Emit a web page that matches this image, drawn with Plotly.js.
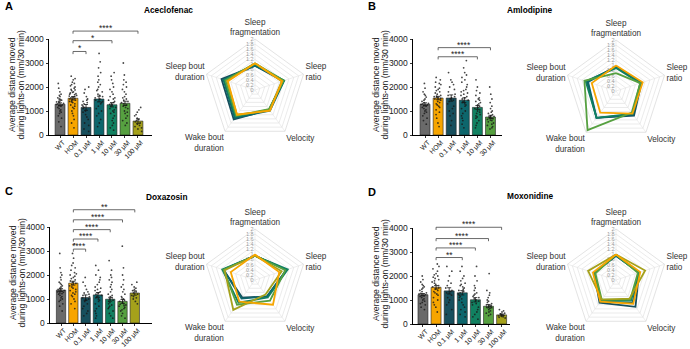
<!DOCTYPE html>
<html><head><meta charset="utf-8">
<script src="https://cdn.plot.ly/plotly-3.0.1.min.js"></script>
<style>html,body{margin:0;padding:0;background:#fff}#chart{width:690px;height:349px}</style>
</head><body><div id="chart"></div>
<script>
// ================= DATA =================
const groups7 = ['WT','HOM','0.1 μM','1 μM','10 μM','30 μM','100 μM'];
const groups6 = ['WT','HOM','0.1 μM','1 μM','10 μM','30 μM'];
const groupColors = ['#6a6a6a','#f7a500','#174f5d','#0d666c','#118161','#56a040','#a5a11b'];
const radarAxes = ['Sleep<br>fragmentation','Sleep<br>ratio','Velocity','Wake bout<br>duration','Sleep bout<br>duration'];
const yTicks = [0,1000,2000,3000,4000];
const drugNames = ['Aceclofenac','Amlodipine','Doxazosin','Moxonidine'];
const panelLetters = ['A','B','C','D'];
const yTitle1 = 'Average distance moved';
const yTitle2 = 'during lights-on (mm/30 min)';

// --- Panel A: Aceclofenac ---
const meanA = [1280,1530,1150,1500,1260,1320,580];
const semA  = [60,70,120,120,90,90,90];
const ptsA_WT  = [2150,1950,1800,1700,1650,1600,1550,1500,1480,1450,1420,1400,1380,1350,1320,1300,1280,1250,1220,1200,1150,1100,1050,1000,950,900,800,700,550,350];
const ptsA_HOM = [2450,2350,2300,2200,2150,2100,2050,2000,1950,1900,1880,1850,1800,1780,1750,1720,1700,1680,1650,1620,1600,1580,1550,1520,1500,1480,1450,1420,1400,1380,1350,1300,1250,1200,1150,1100,1000,900,800,650,500,300];
const ptsA_01  = [2000,1900,1750,1600,1500,1450,1400,1350,1300,1250,1200,1150,1100,1000,950,850,750,650,500,400,250,150];
const ptsA_1   = [3400,3050,2800,2600,2450,2300,2200,2100,2000,1900,1850,1800,1700,1650,1600,1550,1500,1450,1400,1350,1300,1200,1100,1000,900,800,650,500,350];
const ptsA_10  = [2600,2450,2300,2150,2000,1900,1800,1700,1600,1550,1500,1450,1400,1350,1300,1280,1250,1200,1150,1100,1050,1000,950,900,800,700,600,500,400,300,200];
const ptsA_30  = [3000,2500,2300,2200,2100,2000,1900,1800,1700,1600,1550,1500,1450,1400,1350,1300,1250,1200,1150,1100,1000,950,900,800,700,600,500,400];
const ptsA_100 = [1150,1050,950,850,800,700,650,600,550,500,450,400,350,300,250,150];
const sigA_target = ['0.1 μM','10 μM','100 μM'];
const sigA_label  = ['*','*','****'];
const sigA_y      = [3480,3930,4330];
const radarA_HOM = [1.05,1.12,1.0,1.2,1.12];
const radarA_01  = [0.95,1.15,0.95,1.42,1.38];
const radarA_1   = [0.95,1.2,1.0,1.35,1.3];
const radarA_10  = [1.0,1.2,0.95,1.3,1.28];
const radarA_30  = [1.05,1.18,0.93,1.25,1.22];
const radarA_100 = [1.05,1.1,0.98,1.2,1.15];

// --- Panel B: Amlodipine ---
const meanB = [1280,1540,1540,1450,1150,750];
const semB  = [60,70,130,100,80,70];
const ptsB_WT  = [2150,1950,1800,1700,1650,1580,1500,1450,1400,1350,1320,1300,1280,1250,1220,1200,1150,1100,1050,1000,950,900,800,700,600,450];
const ptsB_HOM = [2400,2300,2200,2150,2100,2000,1950,1900,1850,1800,1750,1700,1650,1620,1600,1580,1550,1520,1500,1450,1400,1350,1300,1250,1200,1150,1050,950,850,700,500,350];
const ptsB_01  = [2600,2300,2200,2100,2000,1900,1800,1700,1650,1600,1550,1500,1450,1400,1300,1200,1100,1000,900,800,600,400];
const ptsB_1   = [3100,2800,2600,2500,2400,2300,2200,2100,2000,1900,1850,1800,1750,1700,1650,1600,1550,1500,1450,1400,1350,1300,1250,1200,1100,1000,900,800,700,600,450,300];
const ptsB_10  = [2300,2000,1850,1750,1650,1550,1500,1450,1400,1350,1300,1250,1200,1150,1100,1050,1000,950,900,850,800,750,700,600,500,400,300];
const ptsB_30  = [2000,1700,1500,1350,1200,1100,1000,950,900,850,800,780,750,720,700,680,650,620,600,550,500,450,400,350,300,250];
const sigB_target = ['10 μM','30 μM'];
const sigB_label  = ['****','****'];
const sigB_y      = [3260,3640];
const radarB_HOM = [1.0,1.1,1.1,1.05,1.0];
const radarB_01  = [0.95,1.05,1.2,1.3,1.2];
const radarB_1   = [0.95,1.05,1.15,1.3,1.15];
const radarB_10  = [0.9,1.0,1.1,1.3,1.25];
const radarB_30  = [0.7,1.0,1.05,1.9,1.3];

// --- Panel C: Doxazosin ---
const meanC = [1370,1660,1060,1170,990,900,1250];
const semC  = [60,80,110,100,80,80,90];
const ptsC_WT  = [2900,2300,2100,2000,1900,1800,1700,1650,1600,1550,1500,1450,1400,1380,1350,1320,1300,1280,1250,1220,1200,1150,1100,1050,1000,950,900,800,700,500];
const ptsC_HOM = [3300,2900,2700,2500,2400,2300,2200,2100,2050,2000,1950,1900,1850,1800,1750,1700,1650,1600,1550,1500,1450,1400,1350,1300,1250,1200,1150,1100,1000,900,800,600];
const ptsC_01  = [1900,1700,1550,1400,1300,1250,1200,1150,1100,1050,1000,950,900,800,700,600,500,400,300];
const ptsC_1   = [2400,2200,2000,1900,1800,1700,1600,1500,1450,1400,1350,1300,1250,1200,1150,1100,1050,1000,950,900,800,700,600,500,400,300,200];
const ptsC_10  = [2600,2200,2000,1900,1800,1700,1600,1500,1400,1300,1200,1150,1100,1050,1000,950,900,850,800,750,700,650,600,500,400,300,200];
const ptsC_30  = [3200,2300,2000,1800,1600,1500,1400,1300,1200,1100,1050,1000,950,900,850,800,780,750,720,700,650,600,550,500,400,300,200];
const ptsC_100 = [1700,1600,1500,1450,1400,1350,1300,1250,1200,1150,1100,1050,1000,900,800];
const sigC_target = ['0.1 μM','1 μM','10 μM','30 μM','100 μM'];
const sigC_label  = ['****','****','****','****','**'];
const sigC_y      = [3080,3500,3890,4300,4720];
const radarC_HOM = [1.0,1.0,1.2,1.05,1.0];
const radarC_01  = [0.95,1.3,0.8,0.85,1.3];
const radarC_1   = [0.95,1.3,0.8,0.9,1.3];
const radarC_10  = [0.95,1.35,0.85,1.1,1.35];
const radarC_30  = [0.95,1.25,1.0,1.2,1.3];
const radarC_100 = [0.95,1.1,0.7,1.45,1.25];

// --- Panel D: Moxonidine ---
const meanD = [1220,1530,1380,1300,1010,740,380];
const semD  = [50,70,130,90,90,70,40];
const ptsD_WT  = [2000,1850,1750,1650,1600,1550,1500,1450,1400,1350,1300,1280,1250,1220,1200,1180,1150,1100,1050,1000,950,900,850,800,700,600];
const ptsD_HOM = [2500,2400,2300,2200,2100,2050,2000,1950,1900,1850,1800,1750,1700,1650,1600,1550,1500,1450,1400,1350,1300,1250,1200,1100,1000,900,800,700,500];
const ptsD_01  = [2400,2200,2000,1800,1700,1600,1500,1400,1350,1300,1200,1100,1000,900,800,600,400];
const ptsD_1   = [2400,2200,2000,1900,1800,1700,1650,1600,1550,1500,1450,1400,1350,1300,1250,1200,1150,1100,1050,1000,900,800,700,600,500,400,300];
const ptsD_10  = [2400,2000,1800,1600,1500,1400,1300,1250,1200,1150,1100,1050,1000,950,900,850,800,700,600,500,400,300,200];
const ptsD_30  = [2100,1400,1300,1200,1100,1000,950,900,850,800,780,750,720,700,680,650,600,550,500,450,400,350];
const ptsD_100 = [600,550,500,450,420,400,380,360,340,320,300,280,250];
const sigD_target = ['1 μM','10 μM','30 μM','100 μM'];
const sigD_label  = ['**','****','****','****'];
const sigD_y      = [2770,3170,3560,4030];
const radarD_HOM = [1.0,1.0,1.15,1.05,0.95];
const radarD_01  = [0.95,0.95,1.3,1.1,0.9];
const radarD_1   = [0.95,0.95,1.1,1.05,0.9];
const radarD_10  = [0.98,0.95,1.0,1.0,0.9];
const radarD_30  = [1.0,0.9,0.95,0.95,0.85];
const radarD_100 = [1.0,1.2,0.9,0.95,1.15];

// ================= LAYOUT GEOMETRY (pixels) =================
const W = 690, H = 349;
const px = v => v / W;
const py = v => 1 - v / H;
const PX_PER_4000 = 96;
const geo = [
  {axL:49,  axR:152, y0:135, xr:[-0.85,7.08], cx:255, cy:90,  tX:168, tY:10,  lX:3,   lY:6},
  {axL:413, axR:502, y0:135, xr:[-0.92,5.88], cx:616, cy:91,  tX:530, tY:10,  lX:366, lY:6},
  {axL:50,  axR:152, y0:323, xr:[-0.9,7.4],   cx:255, cy:280, tX:167, tY:197, lX:3,   lY:191},
  {axL:413, axR:510, y0:324, xr:[-0.76,6.64], cx:616, cy:280, tX:530, tY:196, lX:366, lY:192}
];
const R = 51;

const panelData = [
  {cats:groups7, mean:meanA, sem:semA, pts:[ptsA_WT,ptsA_HOM,ptsA_01,ptsA_1,ptsA_10,ptsA_30,ptsA_100],
   sigT:sigA_target, sigL:sigA_label, sigY:sigA_y,
   radar:[null,radarA_HOM,radarA_01,radarA_1,radarA_10,radarA_30,radarA_100]},
  {cats:groups6, mean:meanB, sem:semB, pts:[ptsB_WT,ptsB_HOM,ptsB_01,ptsB_1,ptsB_10,ptsB_30],
   sigT:sigB_target, sigL:sigB_label, sigY:sigB_y,
   radar:[null,radarB_HOM,radarB_01,radarB_1,radarB_10,radarB_30]},
  {cats:groups7, mean:meanC, sem:semC, pts:[ptsC_WT,ptsC_HOM,ptsC_01,ptsC_1,ptsC_10,ptsC_30,ptsC_100],
   sigT:sigC_target, sigL:sigC_label, sigY:sigC_y,
   radar:[null,radarC_HOM,radarC_01,radarC_1,radarC_10,radarC_30,radarC_100]},
  {cats:groups7, mean:meanD, sem:semD, pts:[ptsD_WT,ptsD_HOM,ptsD_01,ptsD_1,ptsD_10,ptsD_30,ptsD_100],
   sigT:sigD_target, sigL:sigD_label, sigY:sigD_y,
   radar:[null,radarD_HOM,radarD_01,radarD_1,radarD_10,radarD_30,radarD_100]}
];

const FONT = 'Liberation Sans, Arial, Helvetica, sans-serif';
const traces = [];
const layout = {
  width: W, height: H, margin:{l:0,r:0,t:0,b:0},
  paper_bgcolor:'#fff', plot_bgcolor:'rgba(0,0,0,0)',
  showlegend:false, font:{family:FONT, color:'#222'},
  annotations:[]
};

panelData.forEach((p, i) => {
  const g = geo[i];
  const n = i + 1;
  const xa = 'x' + n, ya = 'y' + n, yb = 'y' + (n + 4);
  const xKey = 'xaxis' + n, yKey = 'yaxis' + n, ybKey = 'yaxis' + (n + 4);
  const colors = groupColors.slice(0, p.cats.length);

  layout[xKey] = {
    domain:[px(g.axL), px(g.axR)], anchor:ya, type:'category', range:g.xr,
    showline:true, linecolor:'#000', linewidth:1, ticks:'outside', ticklen:2, tickwidth:0.8, tickcolor:'#000',
    tickangle:-45, ticklabelshift:3, ticklabelstandoff:-2, tickfont:{size:6.8, color:'#222', family:FONT},
    showgrid:false, zeroline:false, fixedrange:true
  };
  layout[yKey] = {
    domain:[py(g.y0), py(g.y0 - PX_PER_4000)], anchor:xa, range:[0,4000], tickvals:yTicks,
    showline:true, linecolor:'#000', linewidth:1, ticks:'outside', ticklen:2.5, tickwidth:0.8, tickcolor:'#000',
    tickfont:{size:8.5, color:'#222', family:FONT}, showgrid:false, zeroline:false, fixedrange:true
  };
  layout[ybKey] = {
    domain:[py(g.y0), py(g.y0 - PX_PER_4000 * 1.25)], anchor:xa, range:[0,5000], visible:false, fixedrange:true
  };

  traces.push({
    type:'bar', x:p.cats, y:p.mean, xaxis:xa, yaxis:ya, width:0.76,
    marker:{color:colors, line:{color:'#222', width:0.6}},
    error_y:{type:'data', array:p.sem, color:'#111', thickness:0.8, width:2},
    hoverinfo:'skip'
  });

  const xs = [], ys = [];
  p.pts.forEach((arr, k) => arr.forEach(v => { xs.push(p.cats[k]); ys.push(v); }));
  traces.push({
    type:'box', x:xs, y:ys, xaxis:xa, yaxis:ya, boxpoints:'all', jitter:0.85, pointpos:0, width:0.72,
    marker:{size:1.8, color:'rgba(25,25,25,0.8)'}, line:{width:0, color:'rgba(0,0,0,0)'},
    fillcolor:'rgba(0,0,0,0)', hoverinfo:'skip'
  });

  p.sigT.forEach((t, j) => {
    const h = p.sigY[j];
    traces.push({
      type:'scatter', mode:'lines', x:['HOM','HOM',t,t], y:[h - 110, h, h, h - 110],
      xaxis:xa, yaxis:yb, line:{color:'#444', width:0.8}, hoverinfo:'skip'
    });
    layout.annotations.push({
      xref:xa, yref:yb, x:(1 + p.cats.indexOf(t)) / 2, y:h, text:p.sigL[j], showarrow:false,
      yanchor:'bottom', yshift:-4, font:{size:8.5, color:'#222', family:FONT}
    });
  });

  // y-axis title (two lines)
  const yc = g.y0 - PX_PER_4000 / 2 - 2;
  layout.annotations.push({xref:'paper', yref:'paper', x:px(g.axL - 37), y:py(yc), text:yTitle1, textangle:-90,
    showarrow:false, xanchor:'center', yanchor:'middle', font:{size:8.6, color:'#222', family:FONT}});
  layout.annotations.push({xref:'paper', yref:'paper', x:px(g.axL - 28.5), y:py(yc), text:yTitle2, textangle:-90,
    showarrow:false, xanchor:'center', yanchor:'middle', font:{size:8.6, color:'#222', family:FONT}});

  // panel letter and drug title
  layout.annotations.push({xref:'paper', yref:'paper', x:px(g.lX), y:py(g.lY), text:'<b>' + panelLetters[i] + '</b>',
    showarrow:false, xanchor:'left', yanchor:'middle', font:{size:11, color:'#000', family:FONT}});
  layout.annotations.push({xref:'paper', yref:'paper', x:px(g.tX), y:py(g.tY), text:'<b>' + drugNames[i] + '</b>',
    showarrow:false, xanchor:'center', yanchor:'middle', font:{size:8.3, color:'#000', family:FONT}});

  // radar
  const pk = 'polar' + (n === 1 ? '' : n);
  layout[pk] = {
    domain:{x:[px(g.cx - R), px(g.cx + R)], y:[py(g.cy + R), py(g.cy - R)]},
    bgcolor:'rgba(0,0,0,0)', gridshape:'linear',
    radialaxis:{range:[0,2], dtick:0.2, tick0:0, angle:90, side:'counterclockwise', tickangle:90,
      tickfont:{size:5.5, color:'#999', family:FONT}, showline:false, gridcolor:'#e2e2e2', gridwidth:0.7, ticks:'',
      layer:'below traces'},
    angularaxis:{direction:'clockwise', rotation:90, tickfont:{size:8.2, color:'#333', family:FONT},
      gridcolor:'#e6e6e6', gridwidth:0.7, showline:true, linecolor:'#dcdcdc', linewidth:0.8, ticks:''}
  };
  const order = [];
  for (let k = 2; k < p.radar.length; k++) order.push(k);
  order.push(1);
  order.forEach(k => {
    const vals = p.radar[k];
    traces.push({
      type:'scatterpolar', subplot:pk, mode:'lines',
      r:vals.concat([vals[0]]), theta:radarAxes.concat([radarAxes[0]]),
      line:{color:groupColors[k], width:1.8}, hoverinfo:'skip'
    });
  });
});

Plotly.newPlot('chart', traces, layout, {displayModeBar:false, staticPlot:true});
</script>
</body></html>
